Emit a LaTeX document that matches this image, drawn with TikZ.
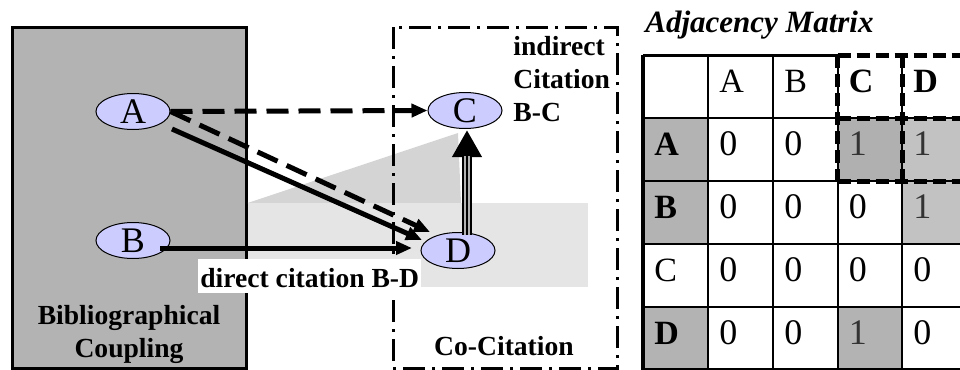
\documentclass[tikz,border=0pt]{standalone}
\usepackage{fontspec}
\setmainfont{Liberation Serif}
\usetikzlibrary{shapes.geometric,arrows.meta}
\definecolor{lav}{RGB}{204,204,255}
\definecolor{boxgray}{RGB}{179,179,179}
\definecolor{cellA}{RGB}{176,176,176}
\definecolor{cellL}{RGB}{194,194,194}
\definecolor{onegray}{RGB}{51,51,51}
\begin{document}
\begin{tikzpicture}[x=0.5pt,y=-0.5pt,
 ell/.style={ellipse,draw,line width=0.5pt,fill=lav,minimum width=37pt,minimum height=18pt,inner sep=0pt,font=\fontsize{18}{18}\selectfont},
 arr/.style={line width=2.5pt,-{Triangle[length=8pt,width=6.5pt]}},
 dsh/.style={dash pattern=on 11pt off 5pt},
 lbl/.style={font=\fontsize{13.8}{16.6}\selectfont\bfseries,inner sep=0pt},
 cell/.style={anchor=base west,inner sep=0pt,font=\fontsize{17}{17}\selectfont},
 bcell/.style={cell,font=\fontsize{17}{17}\selectfont\bfseries},
 num/.style={cell,font=\fontsize{18}{18}\selectfont},
 one/.style={num,text=onegray},
 mline/.style={line width=1pt},
 dline/.style={line width=2.5pt,dash pattern=on 6.5pt off 3pt}]
\useasboundingbox (0,0) rectangle (960,370);

% Bibliographical coupling box
\draw[line width=1.5pt,fill=boxgray] (12,27) rectangle (246,368);
% shaded areas
\fill[gray!34] (247.5,203) -- (458,133) -- (461,203) -- cycle;
\fill[gray!20] (247.5,203) rectangle (588,287);
% co-citation box
\draw[line width=1.5pt,dash pattern=on 11pt off 3.5pt on 1.5pt off 3.5pt] (393,27) rectangle (617,368);

% nodes
\node[ell] (A) at (133,111.5) {A};
\node[ell] (B) at (133,240.5) {B};
\node[ell] (C) at (465,110.5) {C};
\node[ell] (D) at (458,250.5) {D};

% arrows
\draw[arr,dsh] (A.east) -- (C.west);
\draw[arr,dsh] (A.east) -- ([shift={(-28,-18.5)}]D.center);
\draw[arr] ([shift={(39,17.5)}]A.center) -- ([shift={(-36,-10.5)}]D.center);
\draw[arr] ([shift={(27,7.5)}]B.center) -- ([shift={(-46,-2.5)}]D.center);

\coordinate (s0) at ([shift={(9,-16)}]D.center);
\coordinate (s1) at ([shift={(2,19.5)}]C.center);
\coordinate (s2) at ([shift={(2,45)}]C.center);
\draw[line width=5pt,-{Triangle[length=13.5pt,width=14pt]}] (s0) -- (s1);
\draw[line width=2.8pt,gray!60] (s0) -- (s2);
\draw[line width=1pt] (s0) -- (s2);

% labels
\node[lbl,align=left,anchor=north west] (ic) at (513,36) {indirect\\Citation\\B-C};
\node[lbl,fill=white,anchor=base west,inner xsep=1pt,inner ysep=3pt,text height=11pt,text depth=0pt] (dc) at (198,287) {direct citation B-D\hspace{5pt}};
\node[lbl,align=center,anchor=north] (bc) at (129,305) {Bibliographical\\Coupling};
\node[lbl,anchor=base] (cc) at (504,355) {Co-Citation};
\node[anchor=base west,inner sep=0pt,font=\fontsize{15.5}{15.5}\selectfont\bfseries\itshape] (am) at (645,32) {Adjacency Matrix};

% matrix fills
\fill[boxgray] (643,118) rectangle (708,244);
\fill[boxgray] (643,307) rectangle (708,370);
\fill[cellA] (837.5,118) rectangle (902,181);
\fill[cellL] (902,118) rectangle (967,244);
\fill[boxgray] (837.5,307) rectangle (902,370);

% matrix grid
\foreach \yy in {118,181,244,307,369} \draw[mline] (643,\yy) -- (967,\yy);
\foreach \xx in {708,773,837.5,902} \draw[mline] (\xx,55) -- (\xx,370);
\draw[line width=1.5pt] (643,55) -- (837.5,55);
\draw[line width=2pt] (643,54.5) -- (643,370);
\foreach \xx in {837.5,902} \draw[dline] (\xx,55) -- (\xx,182);
\foreach \yy in {55,118,181} \draw[dline] (837.5,\yy) -- (967,\yy);

% matrix text
\node[cell] (hA) at (719,92) {A};
\node[cell] (hB) at (784,92) {B};
\node[bcell] (hC) at (848.5,92) {C};
\node[bcell] (hD) at (913,92) {D};
\node[bcell] (rA) at (654,155) {A};
\node[bcell] (rB) at (654,218) {B};
\node[cell] (rC) at (654,281) {C};
\node[bcell] (rD) at (654,344) {D};
\node[num] (aa) at (719,155) {0};
\node[num] (ab) at (784,155) {0};
\node[one] (ac) at (848.5,155) {1};
\node[one] (ad) at (913,155) {1};
\node[num] (ba) at (719,218) {0};
\node[num] (bb) at (784,218) {0};
\node[num] (bc2) at (848.5,218) {0};
\node[one] (bd) at (913,218) {1};
\node[num] (ca) at (719,281) {0};
\node[num] (cb) at (784,281) {0};
\node[num] (cc2) at (848.5,281) {0};
\node[num] (cd) at (913,281) {0};
\node[num] (da) at (719,344) {0};
\node[num] (db) at (784,344) {0};
\node[one] (dc2) at (848.5,344) {1};
\node[num] (dd) at (913,344) {0};
\end{tikzpicture}
\end{document}
